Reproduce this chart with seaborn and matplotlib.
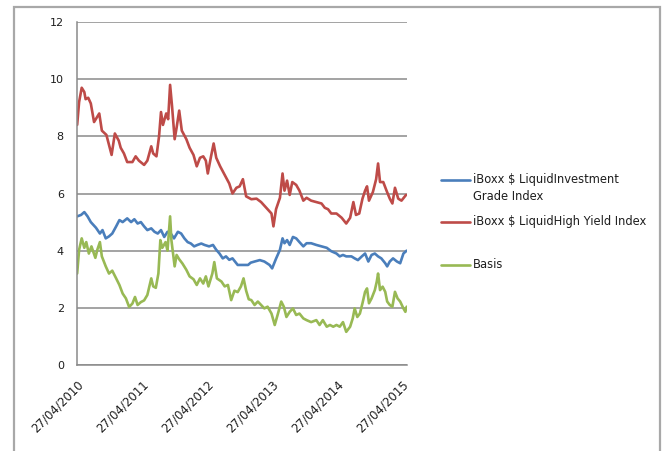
import numpy as np
import pandas as pd
import matplotlib
matplotlib.use("Agg")
import matplotlib.pyplot as plt
import matplotlib.dates as mdates
from matplotlib.lines import Line2D
from matplotlib.patches import Rectangle
import seaborn as sns

# Observation times (decimal years) and yields (%) for each series
ig_years = [2010.32, 2010.38, 2010.43, 2010.48, 2010.53, 2010.61, 2010.67, 2010.71, 2010.76, 2010.81,
            2010.86, 2010.92, 2010.97, 2011.02, 2011.09, 2011.15, 2011.20, 2011.25, 2011.30, 2011.35,
            2011.40, 2011.46, 2011.51, 2011.56, 2011.61, 2011.66, 2011.71, 2011.76, 2011.81, 2011.87,
            2011.92, 2011.97, 2012.02, 2012.07, 2012.12, 2012.17, 2012.23, 2012.28, 2012.35, 2012.41,
            2012.46, 2012.51, 2012.56, 2012.61, 2012.66, 2012.71, 2012.79, 2012.87, 2012.95, 2012.99,
            2013.05, 2013.13, 2013.20, 2013.28, 2013.32, 2013.38, 2013.44, 2013.48, 2013.51, 2013.55,
            2013.59, 2013.64, 2013.69, 2013.74, 2013.80, 2013.85, 2013.92, 2014.00, 2014.08, 2014.16,
            2014.23, 2014.31, 2014.36, 2014.41, 2014.46, 2014.54, 2014.59, 2014.64, 2014.70, 2014.75,
            2014.80, 2014.85, 2014.90, 2014.95, 2015.00, 2015.06, 2015.09, 2015.13, 2015.18, 2015.24,
            2015.29, 2015.34, 2015.39]
ig_values = [5.20, 5.25, 5.35, 5.20, 5.00, 4.80, 4.60, 4.72, 4.43, 4.50,
             4.60, 4.85, 5.07, 5.00, 5.13, 5.00, 5.10, 4.95, 5.00, 4.85,
             4.72, 4.78, 4.66, 4.60, 4.72, 4.48, 4.66, 4.60, 4.43, 4.66,
             4.60, 4.43, 4.30, 4.25, 4.15, 4.20, 4.25, 4.20, 4.15, 4.20,
             4.03, 3.90, 3.73, 3.80, 3.68, 3.73, 3.50, 3.50, 3.50, 3.58,
             3.62, 3.67, 3.62, 3.50, 3.38, 3.72, 4.03, 4.43, 4.26, 4.37,
             4.20, 4.48, 4.43, 4.30, 4.15, 4.26, 4.26, 4.20, 4.15, 4.10,
             3.98, 3.90, 3.80, 3.85, 3.80, 3.80, 3.73, 3.67, 3.80, 3.90,
             3.62, 3.85, 3.90, 3.80, 3.73, 3.56, 3.45, 3.62, 3.73, 3.62,
             3.56, 3.90, 4.00]

hy_years = [2010.32, 2010.35, 2010.39, 2010.43, 2010.45, 2010.49, 2010.53, 2010.58, 2010.66, 2010.70,
            2010.77, 2010.81, 2010.85, 2010.90, 2010.96, 2010.99, 2011.04, 2011.09, 2011.17, 2011.22,
            2011.27, 2011.35, 2011.40, 2011.46, 2011.49, 2011.54, 2011.58, 2011.61, 2011.64, 2011.69,
            2011.72, 2011.75, 2011.78, 2011.82, 2011.85, 2011.89, 2011.93, 2012.00, 2012.05, 2012.11,
            2012.16, 2012.21, 2012.26, 2012.30, 2012.33, 2012.38, 2012.42, 2012.46, 2012.52, 2012.59,
            2012.66, 2012.71, 2012.77, 2012.82, 2012.87, 2012.92, 2013.00, 2013.08, 2013.15, 2013.23,
            2013.31, 2013.34, 2013.38, 2013.44, 2013.48, 2013.51, 2013.55, 2013.59, 2013.63, 2013.69,
            2013.74, 2013.80, 2013.85, 2013.92, 2014.00, 2014.08, 2014.13, 2014.18, 2014.23, 2014.31,
            2014.39, 2014.46, 2014.52, 2014.57, 2014.61, 2014.66, 2014.71, 2014.75, 2014.78, 2014.81,
            2014.87, 2014.92, 2014.95, 2014.98, 2015.03, 2015.08, 2015.13, 2015.17, 2015.21, 2015.26,
            2015.31, 2015.38]
hy_values = [8.40, 9.20, 9.70, 9.55, 9.30, 9.35, 9.15, 8.50, 8.80, 8.20,
             8.05, 7.70, 7.35, 8.10, 7.85, 7.60, 7.40, 7.10, 7.10, 7.30,
             7.15, 7.00, 7.15, 7.65, 7.40, 7.30, 8.00, 8.85, 8.40, 8.80,
             8.60, 9.80, 9.05, 7.90, 8.30, 8.90, 8.20, 7.90, 7.60, 7.35,
             6.95, 7.25, 7.30, 7.15, 6.70, 7.30, 7.75, 7.25, 6.95, 6.65,
             6.35, 6.00, 6.20, 6.25, 6.50, 5.90, 5.80, 5.82, 5.70, 5.50,
             5.30, 4.85, 5.45, 5.85, 6.70, 6.10, 6.45, 5.95, 6.40, 6.30,
             6.10, 5.75, 5.85, 5.75, 5.70, 5.65, 5.50, 5.45, 5.30, 5.30,
             5.15, 4.95, 5.15, 5.70, 5.25, 5.30, 5.82, 6.10, 6.25, 5.75,
             6.05, 6.50, 7.05, 6.40, 6.40, 6.10, 5.82, 5.65, 6.20, 5.82,
             5.75, 5.95]

basis_years = [2010.32, 2010.35, 2010.39, 2010.43, 2010.46, 2010.50, 2010.54, 2010.60, 2010.63, 2010.67,
               2010.70, 2010.76, 2010.81, 2010.86, 2010.92, 2010.97, 2011.02, 2011.07, 2011.12, 2011.17,
               2011.21, 2011.25, 2011.30, 2011.35, 2011.40, 2011.46, 2011.49, 2011.53, 2011.57, 2011.60,
               2011.63, 2011.68, 2011.71, 2011.75, 2011.77, 2011.82, 2011.85, 2011.89, 2011.94, 2012.00,
               2012.05, 2012.11, 2012.16, 2012.21, 2012.26, 2012.30, 2012.34, 2012.40, 2012.43, 2012.47,
               2012.54, 2012.59, 2012.64, 2012.69, 2012.74, 2012.79, 2012.84, 2012.88, 2012.92, 2012.96,
               2013.00, 2013.05, 2013.10, 2013.15, 2013.20, 2013.25, 2013.31, 2013.36, 2013.41, 2013.46,
               2013.50, 2013.54, 2013.59, 2013.64, 2013.69, 2013.74, 2013.80, 2013.85, 2013.92, 2014.00,
               2014.05, 2014.10, 2014.16, 2014.21, 2014.26, 2014.31, 2014.36, 2014.41, 2014.46, 2014.52,
               2014.56, 2014.59, 2014.63, 2014.67, 2014.71, 2014.75, 2014.78, 2014.81, 2014.85, 2014.90,
               2014.93, 2014.95, 2014.98, 2015.02, 2015.06, 2015.09, 2015.13, 2015.17, 2015.21, 2015.25,
               2015.29, 2015.34, 2015.37, 2015.39]
basis_values = [3.20, 4.03, 4.43, 4.10, 4.30, 3.90, 4.15, 3.75, 4.03, 4.30,
                3.80, 3.45, 3.20, 3.30, 3.03, 2.80, 2.50, 2.33, 2.03, 2.15,
                2.38, 2.10, 2.20, 2.26, 2.45, 3.03, 2.75, 2.70, 3.20, 4.37,
                4.10, 4.30, 4.00, 5.20, 4.37, 3.45, 3.85, 3.70, 3.55, 3.33,
                3.10, 3.00, 2.80, 3.03, 2.85, 3.10, 2.75, 3.20, 3.60, 3.03,
                2.92, 2.75, 2.80, 2.27, 2.60, 2.55, 2.75, 3.03, 2.60, 2.30,
                2.27, 2.10, 2.22, 2.10, 1.98, 2.04, 1.80, 1.40, 1.80, 2.22,
                2.04, 1.68, 1.86, 1.98, 1.75, 1.80, 1.63, 1.57, 1.50, 1.57,
                1.40, 1.57, 1.34, 1.40, 1.34, 1.40, 1.34, 1.50, 1.16, 1.34,
                1.63, 1.98, 1.68, 1.80, 2.16, 2.56, 2.68, 2.16, 2.33, 2.62,
                2.92, 3.20, 2.62, 2.74, 2.56, 2.22, 2.10, 2.04, 2.56, 2.33,
                2.22, 1.98, 1.86, 2.04]

series_names = ["iBoxx $ LiquidInvestment Grade Index", "iBoxx $ LiquidHigh Yield Index", "Basis"]
legend_lines = [["iBoxx \\$ LiquidInvestment", "Grade Index"],
                ["iBoxx \\$ LiquidHigh Yield Index"],
                ["Basis"]]
series_colors = ["#4a7ebb", "#be4b48", "#98b954"]
tick_dates = ["2010-04-27", "2011-04-27", "2012-04-27", "2013-04-27", "2014-04-27", "2015-04-27"]
y_ticks = [0, 2, 4, 6, 8, 10, 12]


def to_dates(years):
    years = np.asarray(years, dtype=float)
    return pd.Timestamp("2010-01-01") + pd.to_timedelta((years - 2010.0) * 365.25, unit="D")


frames = []
for name, yrs, vals in zip(series_names,
                           [ig_years, hy_years, basis_years],
                           [ig_values, hy_values, basis_values]):
    frames.append(pd.DataFrame({"date": to_dates(yrs), "value": vals, "series": name}))
df = pd.concat(frames, ignore_index=True)

sns.set_style("white")
plt.rcParams["font.family"] = ["DejaVu Sans"]

W, H = 665, 451
fig = plt.figure(figsize=(W / 100, H / 100), dpi=100)
ax = fig.add_axes([77 / W, 1 - 365 / H, (407 - 77) / W, (365 - 22) / H])

sns.lineplot(data=df, x="date", y="value", hue="series", hue_order=series_names,
             palette=dict(zip(series_names, series_colors)), estimator=None, sort=False,
             linewidth=1.9, legend=False, ax=ax)

ax.set_ylim(0, 12)
ax.set_yticks(y_ticks)
ax.set_xlim(to_dates([2010.318])[0], to_dates([2015.395])[0])
ax.set_xticks(pd.to_datetime(tick_dates))
ax.xaxis.set_major_formatter(mdates.DateFormatter("%d/%m/%Y"))
ax.set_xlabel("")
ax.set_ylabel("")

grid_color = "#8a8a8a"
ax.grid(axis="y", color=grid_color, linewidth=1.1)
ax.grid(axis="x", visible=False)
ax.set_axisbelow(True)
for side in ["top", "right"]:
    ax.spines[side].set_visible(False)
for side in ["left", "bottom"]:
    ax.spines[side].set_color(grid_color)
    ax.spines[side].set_linewidth(1.1)

ax.tick_params(axis="both", direction="out", length=4.5, width=1.1, color=grid_color,
               labelcolor="#1e1e1e")
ax.tick_params(axis="y", pad=5, labelsize=8)
ax.tick_params(axis="x", pad=5, labelsize=8.5)
for lbl in ax.get_xticklabels():
    lbl.set_rotation(45)
    lbl.set_ha("right")
    lbl.set_va("top")
    lbl.set_rotation_mode("anchor")

# legend drawn beside the plot area
legend_rows = [180, 222, 265]
for lines, color, row in zip(legend_lines, series_colors, legend_rows):
    y = 1 - row / H
    fig.add_artist(Line2D([441 / W, 470 / W], [y, y], transform=fig.transFigure,
                          color=color, linewidth=1.9))
    for k, txt in enumerate(lines):
        fig.text(473 / W, 1 - (row + 17 * k) / H, txt, fontsize=8.3, color="#1e1e1e",
                 ha="left", va="center")

# outer chart border
fig.add_artist(Rectangle((14 / W, -0.05), (660 - 14) / W, 1.05 - 7 / H,
                         transform=fig.transFigure, fill=False,
                         edgecolor="#a8a8a8", linewidth=1.6))

fig.savefig("out.png", dpi=100)
